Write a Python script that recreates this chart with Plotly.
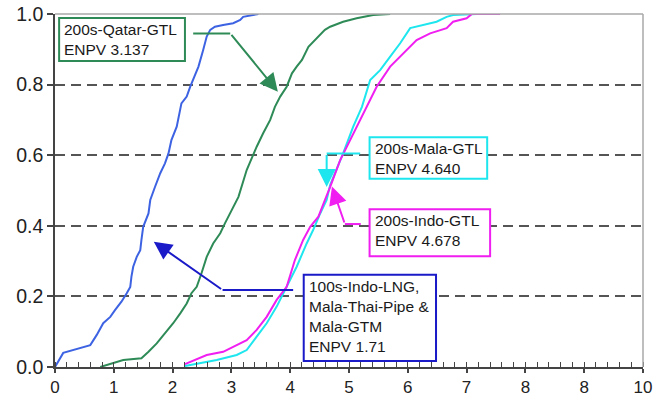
import plotly.graph_objects as go

# ---------------- data ----------------
blue_x = [0.0, 0.14, 0.6, 0.71, 0.82, 0.94, 1.02, 1.13, 1.22, 1.28, 1.30, 1.33, 1.39, 1.45, 1.47, 1.50,
          1.59, 1.62, 1.70, 1.79, 1.87, 1.93, 1.98, 2.07, 2.15, 2.24, 2.30, 2.35, 2.44, 2.52, 2.58, 2.64,
          2.72, 2.86, 3.03, 3.15, 3.20, 3.46]
blue_y = [0.0, 0.04, 0.062, 0.091, 0.124, 0.142, 0.161, 0.185, 0.209, 0.227, 0.256, 0.284, 0.312, 0.331, 0.36, 0.397,
          0.435, 0.473, 0.51, 0.549, 0.577, 0.605, 0.643, 0.681, 0.747, 0.766, 0.794, 0.813, 0.851, 0.898, 0.936, 0.955,
          0.964, 0.969, 0.974, 0.983, 0.992, 1.0]

green_x = [0.77, 1.02, 1.16, 1.47, 1.59, 1.73, 1.87, 2.01, 2.13, 2.24, 2.32, 2.41, 2.49, 2.58, 2.69, 2.81,
           2.89, 3.0, 3.12, 3.26, 3.35, 3.43, 3.54, 3.66, 3.74, 3.83, 3.94, 4.03, 4.11, 4.2, 4.31, 4.45,
           4.59, 4.68, 4.9, 5.13, 5.41, 5.7]
green_y = [0.0, 0.012, 0.02, 0.025, 0.043, 0.067, 0.095, 0.124, 0.152, 0.18, 0.209, 0.227, 0.265, 0.312, 0.35, 0.379,
           0.407, 0.445, 0.482, 0.558, 0.596, 0.624, 0.662, 0.7, 0.737, 0.766, 0.794, 0.832, 0.851, 0.87, 0.907, 0.93,
           0.955, 0.964, 0.978, 0.988, 0.997, 1.0]

cyan_x = [2.21, 2.75, 3.09, 3.26, 3.43, 3.6, 3.77, 3.94, 4.11, 4.28, 4.39, 4.51, 4.62, 4.68, 4.9, 5.07, 5.22,
          5.36, 5.53, 5.7, 5.87, 6.04, 6.26, 6.49, 6.66, 6.77, 7.17]
cyan_y = [0.003, 0.02, 0.034, 0.048, 0.086, 0.124, 0.171, 0.227, 0.284, 0.35, 0.388, 0.435, 0.473, 0.516, 0.605, 0.68, 0.737,
          0.813, 0.841, 0.879, 0.917, 0.96, 0.969, 0.978, 0.992, 0.997, 1.0]

magenta_x = [2.21, 2.58, 2.86, 3.03, 3.26, 3.43, 3.6, 3.77, 3.94, 4.08, 4.22, 4.34, 4.48, 4.59, 4.68, 4.85, 5.02,
             5.24, 5.47, 5.7, 5.92, 6.15, 6.38, 6.66, 6.77, 7.0, 7.09, 7.57]
magenta_y = [0.008, 0.034, 0.043, 0.058, 0.076, 0.105, 0.142, 0.19, 0.227, 0.303, 0.36, 0.397, 0.426, 0.473, 0.51, 0.586, 0.643,
             0.718, 0.794, 0.851, 0.888, 0.926, 0.945, 0.96, 0.978, 0.988, 1.0, 1.0]

x_tickvals = [0, 1, 2, 3, 4, 5, 6, 7, 8, 9, 10]
x_ticktext = ["0", "1", "2", "3", "4", "5", "6", "7", "8", "8", "10"]
y_tickvals = [0.0, 0.2, 0.4, 0.6, 0.8, 1.0]
y_ticktext = ["0.0", "0.2", "0.4", "0.6", "0.8", "1.0"]

BLUE = "#3d63e3"
GREEN = "#2e8b57"
CYAN = "#1ee6ee"
MAGENTA = "#f01ef0"
DKBLUE = "#1a1ac8"
FONT = "Liberation Sans, Arial, Helvetica, sans-serif"

fig = go.Figure()
for xs, ys, c in [(blue_x, blue_y, BLUE), (green_x, green_y, GREEN),
                  (cyan_x, cyan_y, CYAN), (magenta_x, magenta_y, MAGENTA)]:
    fig.add_trace(go.Scatter(x=xs, y=ys, mode="lines", line=dict(color=c, width=2),
                             showlegend=False, hoverinfo="skip"))

# callouts: (box x0, x1, y0, y1, text, border color, connector start, elbow, tip, arrow color)
callouts = [
    (0.07, 2.21, 0.867, 0.989, "200s-Qatar-GTL<br>ENPV 3.137", GREEN, (2.35, 0.945), (2.98, 0.945), (3.79, 0.78), GREEN),
    (5.35, 7.35, 0.533, 0.651, "200s-Mala-GTL<br>ENPV 4.640", CYAN, (5.19, 0.605), (4.62, 0.605), (4.62, 0.51), CYAN),
    (5.35, 7.4, 0.314, 0.447, "200s-Indo-GTL<br>ENPV 4.678", MAGENTA, (5.2, 0.405), (4.93, 0.405), (4.71, 0.511), MAGENTA),
    (4.23, 6.48, 0.017, 0.261, "100s-Indo-LNG,<br>Mala-Thai-Pipe &<br>Mala-GTM<br>ENPV 1.71", DKBLUE,
     (4.05, 0.218), (2.85, 0.218), (1.68, 0.355), DKBLUE),
]

shapes = []
annotations = []
for bx0, bx1, by0, by1, txt, bc, st, el, tip, ac in callouts:
    shapes.append(dict(type="rect", xref="x", yref="y", x0=bx0, x1=bx1, y0=by0, y1=by1,
                       line=dict(color=bc, width=2), fillcolor="white", layer="above"))
    shapes.append(dict(type="line", xref="x", yref="y", x0=st[0], y0=st[1], x1=el[0], y1=el[1],
                       line=dict(color=ac, width=2), layer="above"))
    annotations.append(dict(x=bx0, y=by1, xref="x", yref="y", xanchor="left", yanchor="top",
                            text=txt, showarrow=False, align="left", xshift=3, yshift=-1,
                            font=dict(family=FONT, size=15.5, color="#1a1a1a")))
    annotations.append(dict(x=tip[0], y=tip[1], ax=el[0], ay=el[1], xref="x", yref="y",
                            axref="x", ayref="y", text="", showarrow=True, arrowhead=2,
                            arrowsize=1.8, arrowwidth=2, arrowcolor=ac))

# top and right plot borders (light gray)
shapes.append(dict(type="line", xref="x domain", yref="y domain", x0=0, x1=1, y0=1, y1=1,
                   line=dict(color="#a8a8a8", width=1.5), layer="above"))
shapes.append(dict(type="line", xref="x domain", yref="y domain", x0=1, x1=1, y0=0, y1=1,
                   line=dict(color="#a8a8a8", width=1.5), layer="above"))

fig.update_layout(
    width=665, height=401,
    margin=dict(l=55, r=22, t=14, b=34),
    paper_bgcolor="white", plot_bgcolor="white",
    font=dict(family=FONT, color="#222"),
    shapes=shapes, annotations=annotations,
    xaxis=dict(range=[0, 10], tickvals=x_tickvals, ticktext=x_ticktext, automargin=False,
               showgrid=False, zeroline=False, showline=True, linecolor="#444", linewidth=1.5,
               ticks="outside", ticklen=4, tickwidth=1.5, tickcolor="#444",
               ticklabelstandoff=0,
               minor=dict(ticks="inside", dtick=0.2, tick0=0, ticklen=5, tickwidth=1, tickcolor="#444",
                          showgrid=False),
               tickfont=dict(size=17, color="#222"), fixedrange=True),
    yaxis=dict(range=[0, 1], tickvals=y_tickvals, ticktext=y_ticktext, automargin=False,
               showgrid=True, gridcolor="#555", gridwidth=1.5, griddash="10px,6px",
               zeroline=False, showline=True, linecolor="#444", linewidth=1.5,
               ticks="outside", ticklen=6, tickwidth=1.5, tickcolor="#444",
               tickfont=dict(size=19.5, color="#222"), fixedrange=True),
)

fig.write_html("out.html")
